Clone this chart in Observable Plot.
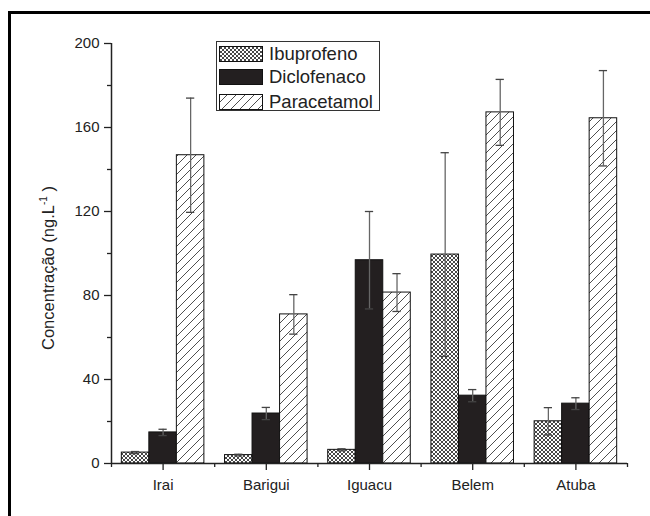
<!DOCTYPE html>
<html>
<head>
<meta charset="utf-8">
<script src="https://cdn.jsdelivr.net/npm/d3@7"></script>
<script src="https://cdn.jsdelivr.net/npm/@observablehq/plot@0.6"></script>
<style>
  html, body { margin: 0; padding: 0; background: #fff; overflow: hidden; }
  #wrap { position: relative; width: 650px; height: 516px; overflow: hidden; font-family: "Liberation Sans", Arial, sans-serif; color: #222; }
  #frameTop { position: absolute; left: 8px; top: 11px; width: 642px; height: 3px; background: #000; }
  #frameLeft { position: absolute; left: 8px; top: 11px; width: 3px; height: 505px; background: #000; }
  #chart { position: absolute; left: 0; top: 0; }
  #ylabel { position: absolute; left: 48px; top: 268px; transform: translate(-50%, -50%) rotate(-90deg); white-space: nowrap; font-size: 16.5px; }
  #ylabel sup { font-size: 10px; }
  #legend { position: absolute; left: 216px; top: 41px; width: 164px; height: 70px; box-sizing: border-box; border: 1px solid #333; background: #fff; }
  .lrow { position: absolute; left: 2px; height: 16px; display: flex; align-items: center; }
  .lrow span { font-size: 18.5px; margin-left: 6px; line-height: 16px; }
</style>
</head>
<body>
<div id="wrap">
  <svg width="0" height="0" style="position:absolute;left:0;top:0">
    <defs>
      <pattern id="cross" patternUnits="userSpaceOnUse" width="4" height="4">
        <rect width="4" height="4" fill="#fff"/>
        <path d="M0,0 L4,4 M4,0 L0,4" stroke="#333" stroke-width="0.9"/>
      </pattern>
      <pattern id="hatch" patternUnits="userSpaceOnUse" width="9" height="9">
        <rect width="9" height="9" fill="#fff"/>
        <path d="M0,9 L9,0 M-2,2 L2,-2 M7,11 L11,7" stroke="#222" stroke-width="0.8"/>
      </pattern>
    </defs>
  </svg>
  <div id="frameTop"></div>
  <div id="frameLeft"></div>
  <div id="chart"></div>
  <div id="ylabel">Concentração (ng.L<sup>-1</sup> )</div>
  <div id="legend"></div>
</div>
<script>
const categories = ["Irai", "Barigui", "Iguacu", "Belem", "Atuba"];
const seriesNames = ["Ibuprofeno", "Diclofenaco", "Paracetamol"];
const ibuprofeno = [5.2, 4.0, 6.5, 99.5, 20.1];
const ibuprofenoErr = [0.5, 0.4, 0.5, 48.5, 6.5];
const diclofenaco = [14.8, 23.8, 96.8, 32.3, 28.5];
const diclofenacoErr = [1.5, 2.9, 23.2, 2.9, 2.8];
const paracetamol = [146.8, 71.0, 81.4, 167.2, 164.4];
const paracetamolErr = [27.2, 9.4, 9.0, 15.7, 22.7];
const yTicks = [0, 40, 80, 120, 160, 200];
const yMinorTicks = [20, 60, 100, 140, 180];

const fills = ["url(#cross)", "#231f20", "url(#hatch)"];
const values = [ibuprofeno, diclofenaco, paracetamol];
const errors = [ibuprofenoErr, diclofenacoErr, paracetamolErr];

const groupWidth = 0.8;
const barW = groupWidth / 3;
const rows = [];
values.forEach((vals, s) => {
  vals.forEach((v, i) => {
    const x1 = (i + 1) - groupWidth / 2 + s * barW;
    rows.push({series: s, cat: categories[i], x1, x2: x1 + barW, xc: x1 + barW / 2, value: v, err: errors[s][i]});
  });
});

const catPos = categories.map((c, i) => i + 1);
const boundaries = [0.5, 1.5, 2.5, 3.5, 4.5, 5.5];

const barMarks = [0, 1, 2].map(s => Plot.rect(rows.filter(d => d.series === s), {
  x1: "x1", x2: "x2", y1: 0, y2: "value", fill: fills[s], stroke: "#111", strokeWidth: 1
}));

const capHalf = 0.04;
const chart = Plot.plot({
  width: 650,
  height: 516,
  marginLeft: 111,
  marginRight: 23,
  marginTop: 43,
  marginBottom: 53,
  style: {fontFamily: "Liberation Sans, Arial, sans-serif", color: "#222", background: "transparent", overflow: "hidden"},
  x: {domain: [0.5, categories.length + 0.5], axis: null},
  y: {domain: [0, 200], axis: null},
  marks: [
    ...barMarks,
    Plot.ruleX(rows, {x: "xc", y1: d => d.value - d.err, y2: d => d.value + d.err, stroke: "#666", strokeWidth: 1.3}),
    Plot.ruleY(rows, {y: d => d.value + d.err, x1: d => d.xc - capHalf, x2: d => d.xc + capHalf, stroke: "#444", strokeWidth: 1.3}),
    Plot.ruleY(rows, {y: d => d.value - d.err, x1: d => d.xc - capHalf, x2: d => d.xc + capHalf, stroke: "#444", strokeWidth: 1.3}),
    Plot.axisY({ticks: yTicks, label: null, tickSize: 7, tickPadding: 5, fontSize: 15, tickFormat: d => d, stroke: "#222", strokeWidth: 1.3}),
    Plot.axisY({ticks: yMinorTicks, label: null, tickSize: 4, text: null, stroke: "#222", strokeWidth: 1.3}),
    Plot.axisX({ticks: catPos, label: null, tickSize: 7, tickPadding: 9, fontSize: 15, tickFormat: d => categories[d - 1], stroke: "#222", strokeWidth: 1.3}),
    Plot.axisX({ticks: boundaries, label: null, tickSize: 4, text: null, stroke: "#222", strokeWidth: 1.3}),
    Plot.ruleX([0.5], {y1: 0, y2: 200, stroke: "#222", strokeWidth: 1.5}),
    Plot.ruleY([0], {x1: 0.5, x2: categories.length + 0.5, stroke: "#222", strokeWidth: 1.5})
  ]
});
document.getElementById("chart").appendChild(chart);

// legend
const legend = document.getElementById("legend");
const rowTops = [4, 27, 52];
seriesNames.forEach((name, s) => {
  const row = document.createElement("div");
  row.className = "lrow";
  row.style.top = rowTops[s] + "px";
  row.innerHTML = `<svg width="44" height="16"><rect x="0.5" y="0.5" width="43" height="15" fill="${fills[s]}" stroke="#111" stroke-width="1"/></svg><span>${name}</span>`;
  legend.appendChild(row);
});
</script>
</body>
</html>
